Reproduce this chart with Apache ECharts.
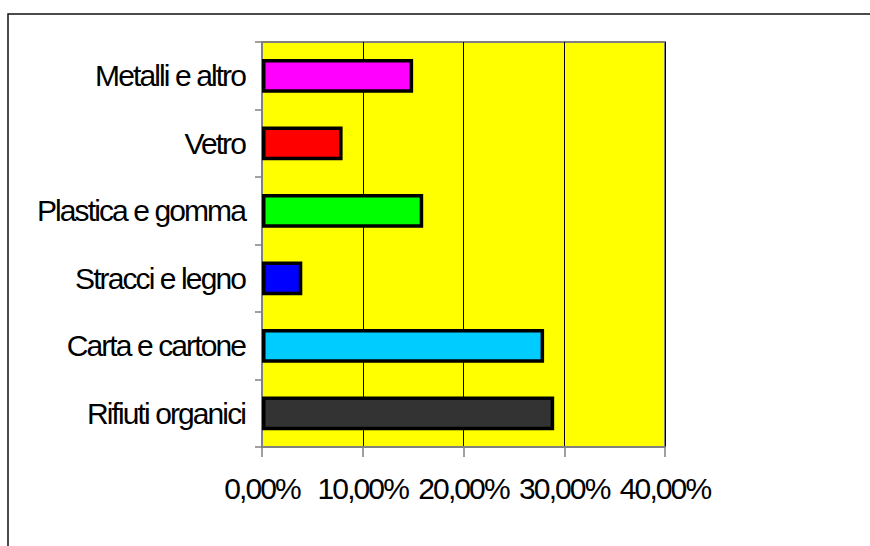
<!DOCTYPE html>
<html><head><meta charset="utf-8">
<script src="https://cdn.jsdelivr.net/npm/echarts@6/dist/echarts.min.js"></script>
<style>html,body{margin:0;padding:0;background:#fff}#c{width:870px;height:546px}
#c text{letter-spacing:-1.9px;font-size:30px !important}</style>
</head><body><div id="c"></div>
<script>
const categories = ['Rifiuti organici', 'Carta e cartone', 'Stracci e legno', 'Plastica e gomma', 'Vetro', 'Metalli e altro'];
const values = [29, 28, 4, 16, 8, 15];
const barColors = ['#333333', '#00ccff', '#0000ff', '#00ff00', '#ff0000', '#ff00ff'];
const xTicks = [0, 10, 20, 30, 40];

const FONT = "'Liberation Sans', Arial, sans-serif";
const chart = echarts.init(document.getElementById('c'), null, {renderer: 'svg'});
chart.setOption({
  animation: false,
  backgroundColor: '#fff',
  graphic: [{
    type: 'rect', shape: {x: 8, y: 14, width: 900, height: 600},
    style: {fill: 'none', stroke: '#111', lineWidth: 1.5}, z: -1
  }],
  grid: {left: 262, right: 205, top: 42, bottom: 99, show: true, containLabel: false,
    outerBoundsMode: 'none',
    backgroundColor: '#ffff00', borderColor: '#808080', borderWidth: 2},
  xAxis: {
    type: 'value', min: xTicks[0], max: xTicks[xTicks.length - 1], interval: 10,
    axisLine: {show: true, lineStyle: {color: '#808080', width: 2}},
    axisTick: {show: true, length: 10, lineStyle: {color: '#808080', width: 1.5}},
    splitLine: {show: true, lineStyle: {color: '#000', width: 1}},
    axisLabel: {margin: 29, color: '#000', fontSize: 24, fontFamily: FONT,
      showMinLabel: true, showMaxLabel: true, hideOverlap: false,
      formatter: v => v.toFixed(2).replace('.', ',') + '%'}
  },
  yAxis: {
    type: 'category', data: categories,
    axisLine: {show: true, lineStyle: {color: '#808080', width: 2}},
    axisTick: {show: true, length: 7, lineStyle: {color: '#808080', width: 1.5}},
    axisLabel: {margin: 17, color: '#000', fontSize: 30, fontFamily: FONT, interval: 0}
  },
  series: [{
    type: 'bar', barWidth: '50%',
    data: values.map((v, i) => ({value: v, itemStyle: {color: barColors[i]}})),
    itemStyle: {borderColor: '#000', borderWidth: 3.5}
  }]
});
</script></body></html>
